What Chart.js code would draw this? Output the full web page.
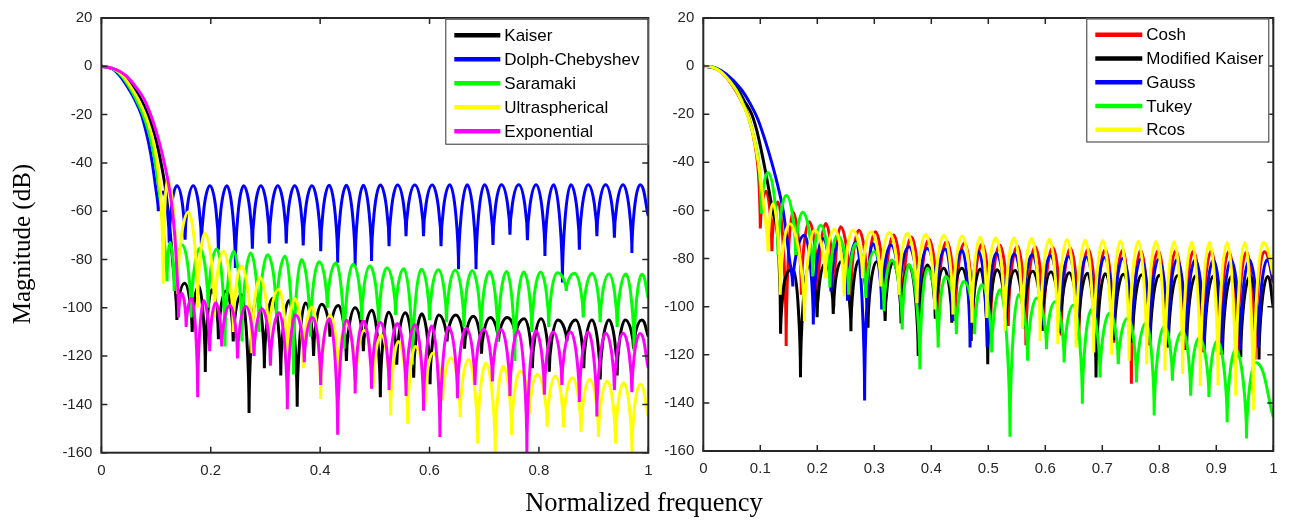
<!DOCTYPE html>
<html>
<head>
<meta charset="utf-8">
<title>Janelas - resposta em frequencia</title>
<script src="https://cdn.jsdelivr.net/npm/chart.js@4.4.0/dist/chart.umd.min.js"></script>
<style>
  body { margin: 0; background: #fff; width: 1293px; height: 524px; position: relative; overflow: hidden; }
  #boxEsq { position: absolute; left: 0; top: 0; width: 665px; height: 492px; }
  #boxDir { position: absolute; left: 660px; top: 0; width: 633px; height: 492px; }
  #tituloX { position: absolute; left: 0; top: 487px; width: 1288px; text-align: center;
             font: 26.5px "Liberation Serif", "Times New Roman", serif; color: #000; }
  #tituloY { position: absolute; left: 22px; top: 246px; width: 300px; margin-left: -150px; margin-top: -16px;
             text-align: center; line-height: 32px; transform: rotate(-90deg);
             font: 25px "Liberation Serif", "Times New Roman", serif; color: #000; }
</style>
</head>
<body>
<div id="boxEsq"><canvas id="chartEsq" width="665" height="492"></canvas></div>
<div id="boxDir"><canvas id="chartDir" width="633" height="492"></canvas></div>
<div id="tituloY">Magnitude (dB)</div>
<div id="tituloX">Normalized frequency</div>
<script>
// eixos
const freqTicksEsq = [0, 0.2, 0.4, 0.6, 0.8, 1];
const freqTicksDir = [0, 0.1, 0.2, 0.3, 0.4, 0.5, 0.6, 0.7, 0.8, 0.9, 1];
const dbTicks = [20, 0, -20, -40, -60, -80, -100, -120, -140, -160];

const nomesEsq = ["Kaiser", "Dolph-Chebyshev", "Saramaki", "Ultraspherical", "Exponential"];
const coresEsq = ["#000000", "#0000ff", "#00ff00", "#ffff00", "#ff00ff"];
const nomesDir = ["Cosh", "Modified Kaiser", "Gauss", "Tukey", "Rcos"];
const coresDir = ["#ff0000", "#000000", "#0000ff", "#00ff00", "#ffff00"];

// [frequencia normalizada, dB] - lobulo principal, depois nulos e picos
const kaiser = [[0,0],[0.022,-1],[0.04,-3.7],[0.059,-9],[0.073,-14],[0.085,-20],[0.094,-26],[0.102,-32.4],[0.109,-40],[0.116,-49],[0.122,-60],[0.13,-80],
  [0.138,-105],[0.152,-89.8],[0.166,-110],[0.178,-91],[0.19,-126.6],[0.202,-92.5],[0.214,-113],[0.228,-93],[0.241,-114],[0.256,-94.5],
  [0.27,-143.6],[0.284,-95.2],[0.298,-125],[0.313,-96],[0.328,-128],[0.343,-97],[0.358,-141],[0.373,-98],[0.388,-120],[0.403,-98.5],
  [0.418,-112],[0.433,-99],[0.448,-122],[0.464,-100],[0.479,-118],[0.495,-101],[0.51,-137],[0.525,-101.8],[0.54,-123.6],[0.556,-102],
  [0.571,-129],[0.586,-102.5],[0.601,-131.7],[0.617,-103],[0.632,-114],[0.648,-103],[0.664,-117],[0.68,-103.5],[0.695,-119],[0.711,-104],
  [0.726,-114],[0.742,-104],[0.757,-112],[0.773,-104.5],[0.788,-125],[0.804,-104.5],[0.819,-126.5],[0.835,-105],[0.851,-114],[0.867,-105],
  [0.882,-125],[0.897,-105],[0.912,-129.7],[0.928,-105],[0.943,-128],[0.958,-105],[0.973,-117],[0.988,-105],[1,-112]];

const dolph = [[0,0],[0.02,-1],[0.033,-3.7],[0.049,-9],[0.0615,-14],[0.073,-20],[0.0805,-26],[0.087,-32.4],[0.093,-40],[0.0985,-49],[0.104,-60],
  [0.113,-52],[0.124,-73.2],[0.138,-49.5],[0.153,-71.8],[0.168,-49.5],[0.183,-74.5],[0.1985,-49.5],[0.214,-76],[0.2295,-49.5],[0.245,-83.5],
  [0.26,-49.5],[0.276,-75.5],[0.2915,-49.5],[0.307,-73.4],[0.3225,-49.5],[0.338,-73.4],[0.3535,-49.5],[0.369,-74.2],[0.385,-49.5],[0.401,-76.6],
  [0.4165,-49.3],[0.432,-81.3],[0.448,-49.3],[0.464,-82.7],[0.479,-49.3],[0.494,-80.6],[0.51,-49.2],[0.526,-74.5],[0.5415,-49.2],[0.557,-70.4],
  [0.573,-49.2],[0.589,-70.4],[0.605,-49.2],[0.621,-74.5],[0.637,-49],[0.653,-84],[0.669,-49],[0.685,-84],[0.7005,-49],[0.716,-74],
  [0.7315,-49],[0.747,-69.8],[0.763,-49],[0.779,-72],[0.795,-49],[0.811,-78.6],[0.827,-49],[0.843,-89.5],[0.8585,-49],[0.874,-76],
  [0.89,-49],[0.906,-70.4],[0.922,-49],[0.938,-71],[0.954,-49],[0.97,-77.3],[0.985,-49],[1,-62]];

const saramaki = [[0,0],[0.021,-1],[0.036,-3.7],[0.052,-9],[0.064,-14],[0.076,-20],[0.085,-26],[0.092,-32.4],[0.0985,-40],[0.104,-49],[0.11,-60],[0.116,-75],
  [0.12,-89],[0.1255,-73],[0.133,-93],[0.148,-74],[0.164,-104],[0.18,-75.3],[0.195,-100],[0.211,-75.7],[0.226,-116],[0.242,-76.6],
  [0.257,-114],[0.273,-77.3],[0.288,-110],[0.304,-78],[0.32,-103],[0.336,-78.7],[0.351,-127.6],[0.366,-80],[0.382,-112],[0.398,-80.9],
  [0.413,-100],[0.429,-81.5],[0.444,-117],[0.46,-82],[0.476,-105],[0.491,-82.7],[0.507,-108],[0.522,-83.5],[0.538,-103],[0.553,-83.8],
  [0.569,-123.6],[0.585,-84],[0.6,-105.2],[0.616,-84.2],[0.631,-106],[0.647,-84.5],[0.663,-108],[0.678,-84.7],[0.694,-110],[0.71,-85],
  [0.725,-114],[0.741,-85],[0.756,-122],[0.772,-85.2],[0.787,-110],[0.803,-85.3],[0.818,-108],[0.834,-85.5],[0.85,-93],[0.865,-85.7],
  [0.881,-104],[0.897,-85.8],[0.912,-106],[0.928,-86],[0.943,-108],[0.959,-86],[0.974,-118],[0.988,-86.1],[1,-96]];

const ultra = [[0,0],[0.022,-1],[0.038,-3.7],[0.055,-9],[0.068,-14],[0.08,-20],[0.089,-26],[0.096,-32.4],[0.102,-40],[0.1065,-49],[0.11,-60],
  [0.113,-90],[0.1206,-46.7],[0.139,-94.3],[0.159,-60.3],[0.176,-100],[0.189,-69.1],[0.207,-104],[0.223,-76.6],[0.241,-110],[0.256,-82.7],
  [0.275,-118.8],[0.29,-87.5],[0.306,-114],[0.324,-92.3],[0.339,-122],[0.354,-96.3],[0.369,-125],[0.385,-99.7],[0.401,-137.8],[0.418,-103.1],
  [0.433,-128],[0.449,-106.6],[0.465,-133],[0.481,-109.3],[0.497,-133],[0.512,-111.3],[0.529,-144.6],[0.543,-114],[0.56,-148],[0.574,-116],
  [0.592,-140],[0.606,-118.8],[0.624,-138.5],[0.639,-120.8],[0.656,-145.3],[0.671,-121.5],[0.688,-156.2],[0.703,-122.9],[0.72,-159.6],[0.735,-124.2],
  [0.75,-152.8],[0.766,-126.3],[0.783,-144],[0.797,-127.6],[0.815,-149.4],[0.83,-128.3],[0.845,-149.4],[0.861,-129],[0.877,-151.4],[0.893,-129.7],
  [0.909,-153.5],[0.925,-130.4],[0.94,-156.2],[0.955,-131],[0.97,-159.6],[0.985,-131.7],[1,-145]];

const expo = [[0,0],[0.022,-1],[0.044,-3.7],[0.0645,-9],[0.079,-14],[0.09,-20],[0.099,-26],[0.107,-32.4],[0.115,-40],[0.123,-49],[0.13,-60],[0.137,-80],
  [0.141,-104],[0.147,-94],[0.155,-108],[0.165,-96],[0.176,-137],[0.187,-97],[0.198,-118],[0.209,-98],[0.22,-116],[0.235,-99],
  [0.249,-121],[0.264,-99.5],[0.279,-120],[0.294,-100.5],[0.309,-124],[0.325,-102],[0.34,-142],[0.355,-103],[0.371,-122.5],[0.386,-104],
  [0.401,-132],[0.417,-104.5],[0.432,-152.6],[0.448,-105],[0.464,-135.5],[0.479,-105.5],[0.494,-133.5],[0.51,-106],[0.526,-134],[0.541,-106.5],
  [0.557,-136.5],[0.573,-107],[0.589,-142.6],[0.604,-107.5],[0.619,-153.5],[0.635,-108],[0.651,-137.5],[0.667,-108.5],[0.683,-132],[0.699,-109],
  [0.715,-130.5],[0.731,-109],[0.747,-136.5],[0.762,-109.5],[0.778,-160],[0.794,-109.5],[0.81,-136],[0.826,-110],[0.842,-132],[0.858,-110],
  [0.874,-139],[0.89,-110],[0.906,-145],[0.922,-110.5],[0.938,-134],[0.954,-110.5],[0.97,-135],[0.985,-110.6],[1,-125]];

const cosh = [[0,0],[0.02,-0.8],[0.035,-3.3],[0.055,-9.5],[0.068,-15],[0.078,-20],[0.085,-26],[0.09,-32],[0.095,-40],[0.098,-50],
  [0.1,-67.5],[0.11,-52],[0.1204,-77],[0.131,-56.5],[0.1454,-116.3],[0.157,-60.6],[0.172,-95],[0.186,-64.7],[0.201,-98],[0.215,-65.4],
  [0.229,-100],[0.241,-66.8],[0.258,-100],[0.273,-68.2],[0.288,-95],[0.302,-68.9],[0.318,-102],[0.334,-70.2],[0.349,-104],[0.365,-71],
  [0.38,-103],[0.396,-72],[0.411,-105],[0.427,-72.8],[0.442,-106],[0.458,-73.5],[0.473,-108],[0.489,-74],[0.504,-110],[0.52,-74.4],
  [0.535,-108],[0.551,-74.8],[0.566,-116],[0.582,-75.1],[0.597,-110],[0.613,-75.4],[0.628,-112],[0.644,-75.7],[0.659,-114],[0.675,-76],
  [0.69,-113],[0.705,-76.2],[0.72,-115],[0.736,-76.4],[0.751,-132],[0.767,-76.5],[0.782,-116],[0.798,-76.7],[0.813,-117],[0.829,-76.8],
  [0.844,-118],[0.86,-76.9],[0.875,-119],[0.891,-77],[0.906,-120],[0.922,-77.1],[0.937,-121],[0.953,-77.2],[0.968,-122],[0.984,-77.2],[1,-90]];

const kaiserMod = [[0,0],[0.022,-0.8],[0.038,-3.5],[0.06,-9.5],[0.072,-14.5],[0.085,-20],[0.093,-26],[0.099,-32],[0.106,-40],[0.114,-50],[0.1215,-60],[0.1327,-80],
  [0.1356,-111.3],[0.143,-89],[0.158,-84.7],[0.1705,-129.3],[0.185,-83],[0.1996,-104.4],[0.214,-82],[0.228,-103],[0.2415,-81.3],[0.259,-110.2],
  [0.273,-80.6],[0.289,-108.8],[0.304,-81.3],[0.319,-106],[0.333,-81.5],[0.347,-107],[0.361,-82.7],[0.377,-120.5],[0.393,-82.7],[0.407,-105],
  [0.422,-84],[0.436,-106.7],[0.454,-84],[0.47,-114.3],[0.486,-84.3],[0.499,-123.9],[0.515,-84.7],[0.531,-108],[0.547,-85],[0.562,-109],
  [0.578,-85.3],[0.594,-110],[0.61,-85.6],[0.626,-111],[0.642,-85.9],[0.658,-112],[0.674,-86.1],[0.689,-129.4],[0.705,-86.3],[0.721,-114],
  [0.737,-86.5],[0.753,-115],[0.769,-86.7],[0.784,-116],[0.8,-86.9],[0.816,-117],[0.832,-87],[0.848,-118],[0.864,-87.1],[0.879,-119],
  [0.895,-87.2],[0.911,-120],[0.927,-87.3],[0.943,-121],[0.959,-87.4],[0.975,-122],[0.99,-87.5],[1,-100.5]];

const gauss = [[0,0],[0.022,-0.9],[0.04,-3.2],[0.066,-9.5],[0.082,-15.5],[0.0955,-22],[0.11,-32],[0.12,-40],[0.13,-49],[0.14,-60],[0.151,-80],
  [0.157,-91.6],[0.1775,-70.3],[0.193,-107.4],[0.2095,-71.7],[0.224,-93.7],[0.2395,-72.5],[0.253,-97.5],[0.268,-73],[0.283,-139],[0.297,-73.7],
  [0.313,-101.2],[0.329,-74.4],[0.344,-95],[0.361,-75.1],[0.377,-100],[0.393,-75.8],[0.408,-97.1],[0.425,-76],[0.437,-106],[0.454,-76.5],
  [0.468,-117],[0.483,-77.2],[0.498,-117],[0.514,-77.8],[0.53,-104],[0.546,-78.1],[0.561,-106],[0.577,-78.4],[0.593,-108],[0.609,-78.7],
  [0.625,-109],[0.641,-79],[0.657,-110],[0.672,-79.3],[0.688,-111],[0.704,-79.6],[0.72,-112],[0.736,-79.9],[0.752,-113],[0.768,-80.1],
  [0.783,-114],[0.799,-80.3],[0.815,-115],[0.831,-80.4],[0.847,-116],[0.863,-80.5],[0.879,-117],[0.895,-80.6],[0.91,-117.5],[0.926,-80.6],
  [0.942,-118],[0.958,-80.6],[0.974,-117],[0.989,-80.6],[1,-89.5]];

const tukey = [[0,0],[0.021,-0.8],[0.036,-3.5],[0.057,-9.5],[0.067,-14],[0.077,-20],[0.085,-26],[0.091,-32],[0.097,-40],[0.1,-50],
  [0.102,-61.4],[0.1135,-44.2],[0.131,-78.5],[0.1455,-53.8],[0.162,-78.5],[0.1746,-60.7],[0.192,-87.5],[0.206,-66.2],[0.222,-92],[0.235,-70.3],
  [0.255,-95],[0.268,-73.7],[0.285,-96.4],[0.3,-77.2],[0.317,-101.9],[0.3305,-80.6],[0.349,-109.5],[0.361,-82.7],[0.38,-126],[0.393,-84],
  [0.412,-117],[0.425,-87.5],[0.444,-111.5],[0.457,-89.5],[0.476,-111.5],[0.489,-90.9],[0.506,-119.1],[0.5207,-93],[0.538,-154.1],[0.553,-95],
  [0.569,-122.5],[0.585,-96.4],[0.602,-117.7],[0.617,-98],[0.633,-123.2],[0.649,-99.4],[0.665,-140.4],[0.681,-101.2],[0.696,-129.4],[0.713,-102.6],
  [0.728,-123.9],[0.745,-104.7],[0.76,-131.5],[0.777,-106.7],[0.791,-145.2],[0.809,-108.1],[0.823,-130.8],[0.841,-110.2],[0.855,-137],[0.87,-112.9],
  [0.887,-137.6],[0.902,-114.3],[0.919,-148],[0.934,-117.7],[0.953,-154.8],[0.969,-123.2],[1,-145.9]];

const rcos = [[0,0],[0.02,-0.8],[0.036,-3.5],[0.056,-9.5],[0.066,-14],[0.077,-20],[0.085,-26],[0.0905,-32],[0.0965,-40],[0.102,-50],[0.107,-60],
  [0.1135,-77.2],[0.1222,-57.2],[0.135,-95],[0.1513,-65.5],[0.1775,-106],[0.195,-68.2],[0.214,-88.2],[0.23,-67.8],[0.247,-95.7],[0.262,-68.2],
  [0.2793,-88.2],[0.294,-68.9],[0.3113,-91.6],[0.326,-69.2],[0.343,-95],[0.3578,-69.6],[0.375,-98.5],[0.39,-69.9],[0.406,-101.2],[0.4218,-70.3],
  [0.438,-103.3],[0.454,-70.6],[0.4713,-106.7],[0.486,-71],[0.4974,-104.7],[0.513,-71.3],[0.529,-110],[0.545,-71.5],[0.56,-109],[0.576,-71.7],
  [0.591,-114.3],[0.607,-71.9],[0.622,-115.6],[0.638,-72.1],[0.654,-117],[0.67,-72.3],[0.685,-119.1],[0.701,-72.5],[0.716,-120],[0.732,-72.6],
  [0.747,-122.5],[0.763,-72.8],[0.778,-124],[0.794,-72.9],[0.81,-126.6],[0.826,-73],[0.841,-128],[0.857,-73.1],[0.872,-133],[0.888,-73.2],
  [0.903,-132.8],[0.919,-73.2],[0.934,-137],[0.95,-73.3],[0.965,-143.1],[0.982,-73.3],[1,-86.8]];

const FONTE = '"Liberation Sans", Arial, Helvetica, sans-serif';
const COR_EIXO = "#262626";

// arredonda o topo dos lobulos e deixa os nulos em ponta
const formaLobulos = {
  id: "formaLobulos",
  beforeDatasetsDraw(chart) {
    chart.data.datasets.forEach((ds, i) => {
      const meta = chart.getDatasetMeta(i);
      const linha = meta.dataset;
      if (!linha || !linha.updateControlPoints) return;
      linha.updateControlPoints(chart.chartArea, "x");
      const pts = meta.data;
      for (let k = 1; k < pts.length - 1; k++) {
        const a = pts[k - 1], p = pts[k], b = pts[k + 1];
        if (p.y < a.y && p.y < b.y) {
          p.cp1x = p.x - 0.55 * (p.x - a.x); p.cp1y = p.y;
          p.cp2x = p.x + 0.55 * (b.x - p.x); p.cp2y = p.y;
        } else if (p.y > a.y && p.y > b.y) {
          p.cp1x = p.x; p.cp1y = p.y - 0.35 * (p.y - a.y);
          p.cp2x = p.x; p.cp2y = p.y - 0.35 * (p.y - b.y);
        }
      }
    });
  }
};

// caixa, ticks para dentro e legenda
function moldura(leg) {
  return {
    id: "moldura",
    afterDatasetsDraw(chart) {
      const ctx = chart.ctx;
      const a = chart.chartArea;
      const sx = chart.scales.x, sy = chart.scales.y;
      ctx.save();
      ctx.strokeStyle = COR_EIXO;
      ctx.lineWidth = 1.5;
      ctx.beginPath();
      sx.ticks.forEach(t => {
        const px = sx.getPixelForValue(t.value);
        ctx.moveTo(px, a.bottom); ctx.lineTo(px, a.bottom - 6);
        ctx.moveTo(px, a.top); ctx.lineTo(px, a.top + 6);
      });
      sy.ticks.forEach(t => {
        const py = sy.getPixelForValue(t.value);
        ctx.moveTo(a.left, py); ctx.lineTo(a.left + 6, py);
        ctx.moveTo(a.right, py); ctx.lineTo(a.right - 6, py);
      });
      ctx.stroke();
      ctx.lineWidth = 2;
      ctx.strokeRect(a.left, a.top, a.right - a.left, a.bottom - a.top);

      // legenda
      const x0 = a.right - leg.dx - leg.w, y0 = a.top + leg.dy;
      ctx.fillStyle = "#fff";
      ctx.fillRect(x0, y0, leg.w, leg.h);
      ctx.lineWidth = 1;
      ctx.strokeStyle = "#333";
      ctx.strokeRect(x0 + 0.5, y0 + 0.5, leg.w - 1, leg.h - 1);
      ctx.font = leg.fonte + "px " + FONTE;
      ctx.textBaseline = "middle";
      ctx.textAlign = "left";
      chart.data.datasets.forEach((ds, i) => {
        const y = y0 + leg.primeira + i * leg.passo;
        ctx.strokeStyle = ds.borderColor;
        ctx.lineWidth = 4.5;
        ctx.beginPath();
        ctx.moveTo(x0 + 9, y);
        ctx.lineTo(x0 + 9 + leg.traco, y);
        ctx.stroke();
        ctx.fillStyle = "#000";
        ctx.fillText(ds.label, x0 + 13 + leg.traco, y + 1);
      });
      ctx.restore();
    }
  };
}

function serie(nome, pares, cor, ordem) {
  return {
    label: nome,
    data: pares.map(p => ({ x: p[0], y: p[1] })),
    borderColor: cor,
    backgroundColor: cor,
    borderWidth: 3,
    pointRadius: 0,
    cubicInterpolationMode: "monotone",
    fill: false,
    order: ordem
  };
}

function opcoes(freqTicks, larguraY, alturaX, padTop, padRight) {
  return {
    responsive: false,
    animation: false,
    events: [],
    layout: { padding: { top: padTop, right: padRight, bottom: 0, left: 0 } },
    plugins: { legend: { display: false }, tooltip: { enabled: false } },
    scales: {
      x: {
        type: "linear", min: 0, max: 1,
        afterBuildTicks: s => { s.ticks = freqTicks.map(v => ({ value: v })); },
        afterFit: s => { s.height = alturaX; },
        ticks: { color: COR_EIXO, padding: 9, maxRotation: 0, autoSkip: false,
                 font: { family: FONTE, size: 15 }, callback: v => String(v) },
        grid: { display: false, drawTicks: false },
        border: { display: false }
      },
      y: {
        type: "linear", min: -160, max: 20,
        afterBuildTicks: s => { s.ticks = dbTicks.map(v => ({ value: v })); },
        afterFit: s => { s.width = larguraY; },
        ticks: { color: COR_EIXO, padding: 9, autoSkip: false,
                 font: { family: FONTE, size: 15 }, callback: v => String(v) },
        grid: { display: false, drawTicks: false },
        border: { display: false }
      }
    }
  };
}

const seriesEsq = [kaiser, dolph, saramaki, ultra, expo];
const seriesDir = [cosh, kaiserMod, gauss, tukey, rcos];

let graficoEsq = new Chart(document.getElementById("chartEsq").getContext("2d"), {
  type: "line",
  data: { datasets: seriesEsq.map((s, i) => serie(nomesEsq[i], s, coresEsq[i], 5 - i)) },
  options: opcoes(freqTicksEsq, 101.4, 39.3, 12, 16.7),
  plugins: [formaLobulos, moldura({ w: 203, h: 126, dx: 0, dy: 0.7, primeira: 16.6, passo: 24, traco: 46, fonte: 17 })]
});

let graficoDir = new Chart(document.getElementById("chartDir").getContext("2d"), {
  type: "line",
  data: { datasets: seriesDir.map((s, i) => serie(nomesDir[i], s, coresDir[i], 5 - i)) },
  options: opcoes(freqTicksDir, 43.3, 41, 15.5, 19.7),
  plugins: [formaLobulos, moldura({ w: 183, h: 124, dx: 4, dy: 0.5, primeira: 16.3, passo: 23.75, traco: 47, fonte: 17 })]
});
</script>
</body>
</html>
